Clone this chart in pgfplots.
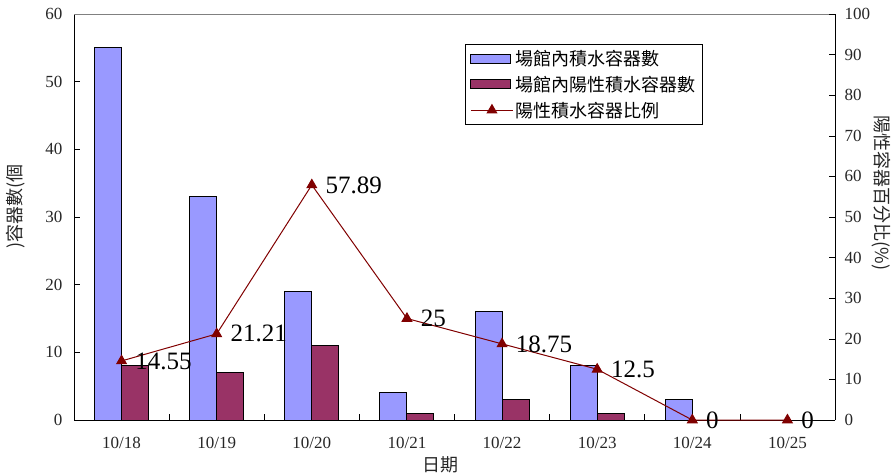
\documentclass[border=0pt]{standalone}
\usepackage{fontspec}
\setmainfont{Liberation Serif}
\newfontfamily\cjk{Noto Sans CJK TC}
\usepackage{pgfplots}
\usepackage{pgfplotstable}
\pgfplotsset{compat=1.18}
\definecolor{barblue}{RGB}{153,153,255}
\definecolor{barred}{RGB}{153,51,102}
\definecolor{linered}{RGB}{128,0,0}

\pgfplotsset{
  barlegend/.style={legend image code/.code={\draw[##1, line width=1pt] (0pt,-4.5pt) rectangle (40pt,4.5pt);}},
  linelegend/.style={legend image code/.code={\draw[##1, mark repeat=2, mark phase=2] plot coordinates {(0pt,0pt) (21pt,0pt) (42pt,0pt)};}},
}

\pgfplotstableread{
x a b
0 55 8
1 33 7
2 19 11
3 4 1
4 16 3
5 8 1
6 3 0
7 0 0
}\bars
\pgfplotstableread{
x p lab
0 14.55 14.55
1 21.21 21.21
2 57.89 57.89
3 25 25
4 18.75 18.75
5 12.5 12.5
6 0 0
7 0 0
}\ratio

\begin{document}
\begin{tikzpicture}
\path[use as bounding box] (0,0) rectangle (894pt,475pt);
\begin{axis}[
  at={(74pt,55pt)}, anchor=south west,
  scale only axis, width=761pt, height=406pt,
  xmin=-0.5, xmax=7.5, ymin=0, ymax=60,
  axis x line*=bottom, axis y line*=left,
  axis line style={-, black, line width=1pt},
  tick align=inside,
  xtick={0,...,7},
  xticklabels={10/18,10/19,10/20,10/21,10/22,10/23,10/24,10/25},
  major x tick style={draw=none},
  minor xtick={0.5,1.5,...,6.5},
  minor tick length=6pt,
  minor x tick style={black, line width=0.6pt},
  ytick={0,10,...,60},
  major tick length=6pt,
  y tick style={black, line width=0.6pt},
  /pgf/number format/assume math mode=true,
  tick label style={font=\fontsize{17}{20}\selectfont, color=black!85},
  xticklabel style={yshift=-14pt},
  yticklabel style={xshift=-8pt},
  xlabel={\cjk 日期},
  every axis x label/.style={at={(axis description cs:0.481,-0.111)}, anchor=center, font=\fontsize{18}{20}\selectfont, color=black!85},
  ylabel={\cjk )容器數(個},
  every axis y label/.style={at={(axis description cs:-0.0762,0.525)}, rotate=90, anchor=center, font=\fontsize{18}{20}\selectfont, color=black!85},
  legend style={at={(0.514,0.926)}, anchor=north west, draw=black, fill=white,
    font=\cjk\fontsize{18}{20}\selectfont, inner xsep=5pt, inner ysep=4pt,
    row sep=5pt, line width=0.6pt},
  legend cell align=left,
]
\draw[gray, line width=1pt] (rel axis cs:0,1) -- (rel axis cs:1,1);
\addplot[ybar, bar width=27pt, bar shift=-13.5pt, fill=barblue, draw=black, line width=1pt, barlegend]
  table[x=x, y=a] {\bars};
\addlegendentry{場館內積水容器數}
\addplot[ybar, bar width=27pt, bar shift=13.5pt, fill=barred, draw=black, line width=1pt, barlegend]
  table[x=x, y=b] {\bars};
\addlegendentry{場館內陽性積水容器數}
\addlegendimage{linered, line width=1pt, mark=triangle*, mark size=5.5pt, mark options={fill=linered, draw=linered}, linelegend}
\addlegendentry{陽性積水容器比例}
\end{axis}
\begin{axis}[
  at={(74pt,55pt)}, anchor=south west,
  scale only axis, width=761pt, height=406pt,
  xmin=-0.5, xmax=7.5, ymin=0, ymax=100,
  axis x line=none,
  axis y line*=right,
  axis line style={-, black, line width=1pt},
  tick align=inside,
  ytick={0,10,...,100},
  major tick length=6pt,
  y tick style={black, line width=0.6pt},
  /pgf/number format/assume math mode=true,
  tick label style={font=\fontsize{17}{20}\selectfont, color=black!85},
  yticklabel style={xshift=6pt},
  ylabel={\cjk 陽性容器百分比(\%)},
  every axis y label/.style={at={(axis description cs:1.0604,0.559)}, rotate=-90, anchor=center, font=\fontsize{18}{20}\selectfont, color=black!85},
  clip=false,
]
\addplot[linered, line width=1pt, mark=triangle*, mark size=5.5pt, mark options={fill=linered},
  point meta=explicit symbolic,
  nodes near coords,
  every node near coord/.append style={anchor=west, xshift=10pt, text=black, font=\fontsize{25}{28}\selectfont}]
  table[x=x, y=p, meta=lab] {\ratio};
\end{axis}
\end{tikzpicture}
\end{document}
